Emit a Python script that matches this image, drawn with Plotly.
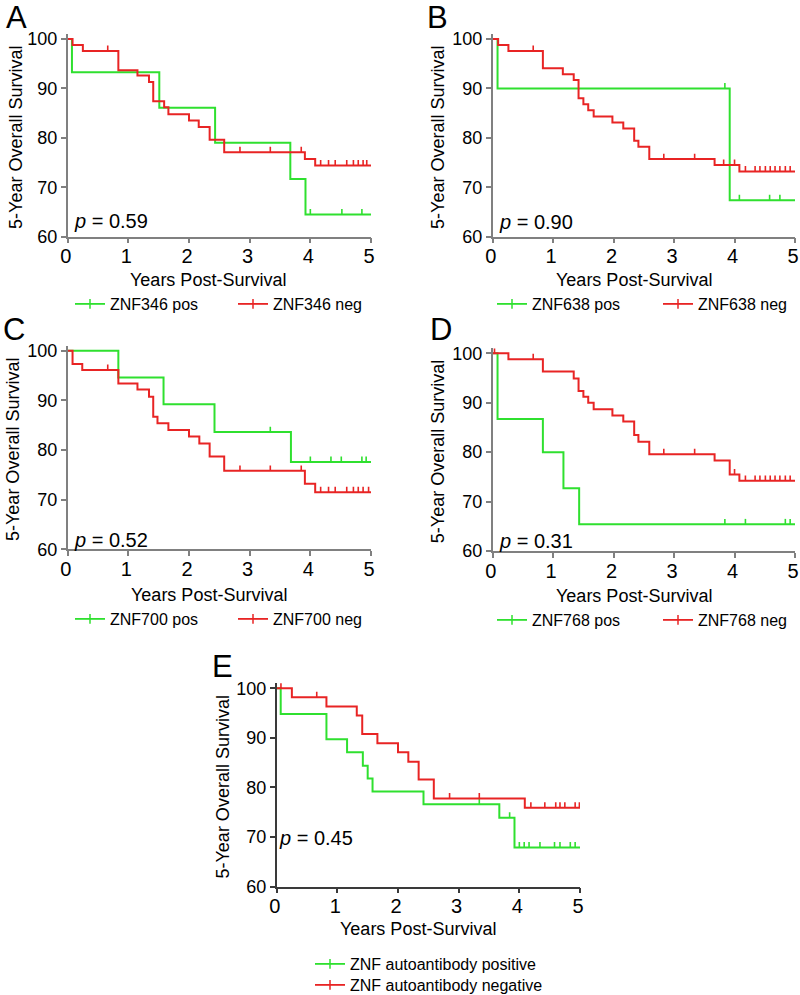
import plotly.graph_objects as go

W, H = 800, 995

# ---------------- data ----------------
# Panel A: ZNF346
A_pos_t = [0.07, 1.51, 2.43, 3.67, 3.92]
A_pos_s = [93.3, 86.1, 79.0, 71.7, 64.5]
A_pos_c = [4.0, 4.52, 4.85]
A_neg_t = [0.08, 0.25, 0.835, 1.15, 1.34, 1.41, 1.59, 1.66, 2.0, 2.16, 2.34, 2.58, 3.91, 4.08]
A_neg_s = [98.8, 97.6, 93.7, 92.6, 91.3, 87.4, 86.2, 84.8, 83.5, 82.2, 79.6, 77.1, 75.7, 74.4]
A_neg_c = [0.66, 2.84, 3.34, 3.85, 4.17, 4.30, 4.41, 4.60, 4.71, 4.79, 4.87, 4.93]

# Panel B: ZNF638
B_pos_t = [0.08, 3.92]
B_pos_s = [90.0, 67.4]
B_pos_c = [3.84, 4.08, 4.58, 4.75]
B_neg_t = [0.09, 0.26, 0.83, 1.16, 1.34, 1.42, 1.50, 1.58, 1.67, 1.98, 2.16, 2.34, 2.41, 2.59, 3.67, 4.08]
B_neg_s = [98.8, 97.6, 94.1, 92.9, 91.7, 88.0, 86.8, 85.6, 84.3, 83.1, 81.9, 79.4, 78.2, 75.7, 74.5, 73.2]
B_neg_c = [0.67, 2.83, 3.34, 3.82, 4.0, 4.18, 4.34, 4.42, 4.51, 4.59, 4.67, 4.75, 4.84, 4.92]

# Panel C: ZNF700
C_pos_t = [0.835, 1.58, 2.42, 3.68]
C_pos_s = [94.6, 89.2, 83.6, 77.6]
C_pos_c = [3.34, 4.0, 4.34, 4.51, 4.85, 4.92]
C_neg_t = [0.08, 0.24, 0.835, 1.15, 1.34, 1.41, 1.48, 1.66, 2.0, 2.17, 2.34, 2.58, 3.91, 4.08]
C_neg_s = [97.3, 96.1, 93.4, 92.2, 90.7, 86.7, 85.4, 84.0, 82.7, 81.3, 78.7, 75.8, 73.2, 71.5]
C_neg_c = [0.66, 2.84, 3.34, 3.85, 4.17, 4.30, 4.41, 4.60, 4.71, 4.79, 4.87, 4.96]

# Panel D: ZNF768
D_pos_t = [0.08, 0.83, 1.17, 1.43]
D_pos_s = [86.7, 80.0, 72.7, 65.4]
D_pos_c = [3.84, 4.18, 4.84, 4.92]
D_neg_t = [0.26, 0.83, 1.34, 1.42, 1.50, 1.58, 1.67, 1.98, 2.16, 2.34, 2.41, 2.59, 3.67, 3.92, 4.08]
D_neg_s = [98.8, 96.3, 94.9, 92.4, 91.2, 90.0, 88.7, 87.4, 86.2, 83.5, 82.1, 79.6, 78.3, 75.5, 74.2]
D_neg_c = [0.03, 0.67, 2.83, 3.34, 4.0, 4.18, 4.34, 4.42, 4.51, 4.59, 4.67, 4.75, 4.84, 4.92]

# Panel E: all ZNF autoantibodies
E_pos_t = [0.066, 0.82, 1.16, 1.42, 1.50, 1.58, 2.42, 3.67, 3.92]
E_pos_s = [94.8, 89.7, 87.1, 84.4, 81.8, 79.2, 76.6, 73.9, 67.9]
E_pos_c = [3.34, 3.84, 4.0, 4.08, 4.16, 4.34, 4.58, 4.67, 4.84, 4.92]
E_neg_t = [0.25, 0.82, 1.32, 1.41, 1.66, 2.0, 2.17, 2.34, 2.59, 4.09]
E_neg_s = [98.2, 96.3, 94.5, 90.8, 88.9, 87.1, 85.2, 81.6, 77.8, 75.9]
E_neg_c = [0.07, 0.66, 2.85, 3.34, 4.19, 4.42, 4.60, 4.67, 4.75, 4.92, 4.99]

FOLLOW_UP_END = 5.0

panel_letters = ["A", "B", "C", "D", "E"]
p_values = ["0.59", "0.90", "0.52", "0.31", "0.45"]
pos_names = ["ZNF346 pos", "ZNF638 pos", "ZNF700 pos", "ZNF768 pos", "ZNF autoantibody positive"]
neg_names = ["ZNF346 neg", "ZNF638 neg", "ZNF700 neg", "ZNF768 neg", "ZNF autoantibody negative"]
x_ticks = [0, 1, 2, 3, 4, 5]
y_ticks = [60, 70, 80, 90, 100]

series = [
    (A_pos_t, A_pos_s, A_pos_c, A_neg_t, A_neg_s, A_neg_c),
    (B_pos_t, B_pos_s, B_pos_c, B_neg_t, B_neg_s, B_neg_c),
    (C_pos_t, C_pos_s, C_pos_c, C_neg_t, C_neg_s, C_neg_c),
    (D_pos_t, D_pos_s, D_pos_c, D_neg_t, D_neg_s, D_neg_c),
    (E_pos_t, E_pos_s, E_pos_c, E_neg_t, E_neg_s, E_neg_c),
]

# ---------------- layout geometry (pixels) ----------------
# (left, right, top, bottom) of each plot area
boxes = [
    (67.7, 371.0, 34.1, 236.7),
    (492.7, 795.0, 34.1, 236.7),
    (67.7, 371.0, 345.7, 549.3),
    (492.7, 795.0, 348.4, 551.0),
    (276.7, 580.0, 683.3, 886.7),
]
axis_colors = ["#808080", "#808080", "#808080", "#808080", "#3a3a3a"]
letter_pos = [(16, 17), (437, 17), (14, 329), (441, 329), (222, 666)]
ytitle_x = [16, 438, 13, 438, 222]
xtitle_pos = [(208, 280), (634, 280), (209, 595), (634, 596), (418, 929)]
p_pos = [(72, 221), (497, 222), (72, 540), (497, 541), (277, 838)]
# legend entries: ((x, y) of positive entry box, (x, y) of negative entry box)
legend_pos = [
    ((70, 304), (233, 304)),
    ((492, 304), (658, 304)),
    ((70, 619), (233, 619)),
    ((492, 620), (658, 620)),
    ((310, 964), (310, 985)),
]

GREEN = "#2fe02f"
RED = "#e82424"
FONT = "Arial, Liberation Sans, sans-serif"

def fx(px):
    return px / W

def fy(py):
    return 1 - py / H

def surv_at(times, survs, t):
    s = 100.0
    for ti, si in zip(times, survs):
        if ti <= t:
            s = si
    return s

fig = go.Figure()
annotations = []
legend_layouts = {}

def note(text, px, py, size, xanchor="center", angle=0):
    annotations.append(dict(text=text, x=fx(px), y=fy(py), xref="paper", yref="paper",
                            xanchor=xanchor, yanchor="middle", showarrow=False, textangle=angle,
                            font=dict(size=size, color="black", family=FONT)))

leg_no = 0
for i, (pt, ps, pc, nt, ns, nc) in enumerate(series):
    k = "" if i == 0 else str(i + 1)
    xa, ya = "x" + k, "y" + k
    for j, (t, s, c, name, color) in enumerate(
            ((pt, ps, pc, pos_names[i], GREEN), (nt, ns, nc, neg_names[i], RED))):
        xs = [0] + t + [FOLLOW_UP_END]
        ys = [100] + s + [s[-1]]
        fig.add_trace(go.Scatter(
            x=xs, y=ys, mode="lines", line=dict(color=color, width=2, shape="hv"),
            xaxis=xa, yaxis=ya, showlegend=False, hoverinfo="skip"))
        cy = [surv_at(t, s, ci) for ci in c]
        fig.add_trace(go.Scatter(
            x=c, y=cy, mode="markers", marker=dict(size=1, color="rgba(0,0,0,0)"),
            error_y=dict(type="data", symmetric=False, array=[1.1] * len(c), arrayminus=[0] * len(c),
                         width=0, thickness=1.6, color=color),
            xaxis=xa, yaxis=ya, showlegend=False, hoverinfo="skip"))
        # legend entry (one small legend per entry, placed like the reference)
        leg_no += 1
        leg = "legend" if leg_no == 1 else "legend%d" % leg_no
        fig.add_trace(go.Scatter(
            x=[None], y=[None], mode="lines+markers", name=name,
            line=dict(color=color, width=1.8),
            marker=dict(symbol="line-ns-open", size=7, color=color, line=dict(color=color, width=1.5)),
            xaxis=xa, yaxis=ya, legend=leg, showlegend=True))
        lx, ly = legend_pos[i][j]
        legend_layouts[leg] = dict(x=fx(lx), y=fy(ly), xanchor="left", yanchor="middle",
                                   orientation="h", font=dict(size=16, color="black", family=FONT),
                                   bgcolor="rgba(0,0,0,0)", itemwidth=30)

    l, r, t0, b = boxes[i]
    axis_common = dict(showline=True, linecolor=axis_colors[i], linewidth=1.5, ticks="outside",
                       ticklen=5, tickwidth=1.5, tickcolor=axis_colors[i], showgrid=False,
                       zeroline=False, automargin=False, fixedrange=True)
    fig.update_layout(**{
        "xaxis" + k: dict(domain=[fx(l), fx(r)], range=[0, FOLLOW_UP_END], anchor=ya,
                          tickvals=x_ticks,
                          tickfont=dict(size=20, color="black", family=FONT),
                          ticklabelstandoff=-4, ticklabelshift=-2, ticklabeloverflow="allow",
                          **axis_common),
        "yaxis" + k: dict(domain=[fy(b), fy(t0)], range=[60, 101], anchor=xa,
                          tickvals=y_ticks, tickfont=dict(size=18, color="black", family=FONT),
                          **axis_common),
    })

    # texts
    note(panel_letters[i], letter_pos[i][0], letter_pos[i][1], 31)
    note("5-Year Overall Survival", ytitle_x[i], (t0 + b) / 2 + 2.5, 18, angle=-90)
    note("Years Post-Survival", xtitle_pos[i][0], xtitle_pos[i][1], 18)
    note("<i>p</i> = " + p_values[i], p_pos[i][0], p_pos[i][1], 20, xanchor="left")

fig.update_layout(**legend_layouts)
fig.update_layout(
    width=W, height=H, margin=dict(l=0, r=0, t=0, b=0, autoexpand=False),
    paper_bgcolor="white", plot_bgcolor="white",
    annotations=annotations, font=dict(family=FONT, color="black"),
)

fig.write_html(
    "out.html",
    config={"responsive": False, "displayModeBar": False},
    post_script="document.body.style.margin='0';document.body.style.overflow='hidden';",
)
